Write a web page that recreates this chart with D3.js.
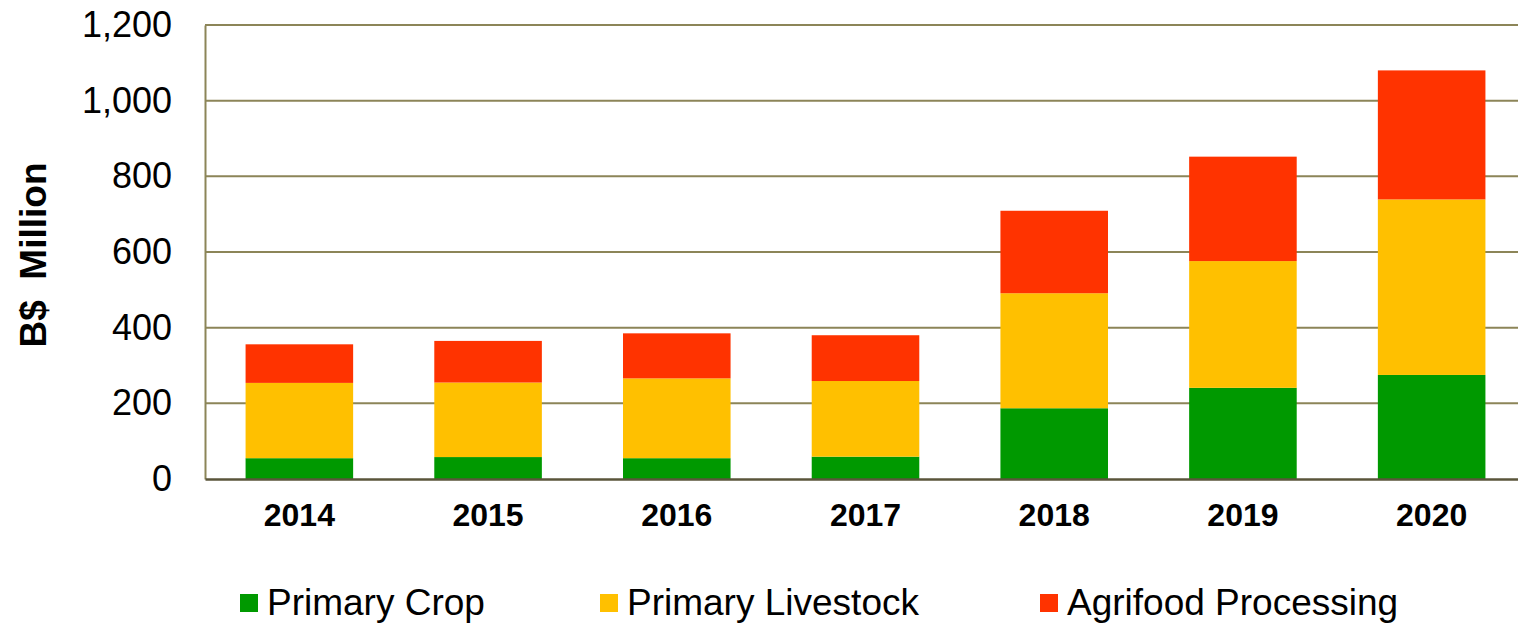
<!DOCTYPE html>
<html>
<head>
<meta charset="utf-8">
<script src="https://cdn.jsdelivr.net/npm/d3@7"></script>
<style>
  body { margin: 0; background: #fff; }
  svg { display: block; font-family: "Liberation Sans", Arial, sans-serif; }
</style>
</head>
<body>
<div id="chart"></div>
<script>
// data (B$ million)
var years = ["2014", "2015", "2016", "2017", "2018", "2019", "2020"];
var primaryCrop = [55, 58, 55, 59, 187, 241, 275];
var primaryLivestock = [199, 197, 211, 200, 304, 335, 464];
var agrifoodProcessing = [102, 110, 119, 121, 218, 276, 341];
var seriesNames = ["Primary Crop", "Primary Livestock", "Agrifood Processing"];
var seriesColors = ["#009900", "#ffc000", "#ff3300"];
var yTicks = [0, 200, 400, 600, 800, 1000, 1200];

var W = 1518, H = 623;
var margin = {top: 25, right: -8, bottom: 144, left: 205},
    width = W - margin.left - margin.right,
    height = H - margin.top - margin.bottom;

var svg = d3.select("#chart")
  .append("svg")
    .attr("width", W)
    .attr("height", H)
  .append("g")
    .attr("transform", "translate(" + margin.left + "," + margin.top + ")");

// build rows for the stack
var rows = years.map(function(y, i) {
  return {year: y, crop: primaryCrop[i], livestock: primaryLivestock[i], agri: agrifoodProcessing[i]};
});
var keys = ["crop", "livestock", "agri"];
var stacked = d3.stack().keys(keys)(rows);

var x = d3.scaleBand()
  .domain(years)
  .range([0, width])
  .paddingInner(0.43)
  .paddingOuter(0.215);

var y = d3.scaleLinear()
  .domain([0, 1200])
  .range([height, 0]);

// gridlines
svg.append("g")
  .selectAll("line")
  .data(yTicks.slice(1))
  .enter()
  .append("line")
    .attr("x1", 0)
    .attr("x2", width)
    .attr("y1", function(d) { return y(d); })
    .attr("y2", function(d) { return y(d); })
    .style("stroke", "#8c8558")
    .style("stroke-width", 2);

// y axis
var yAxis = svg.append("g")
  .call(d3.axisLeft(y).tickValues(yTicks).tickSize(0).tickPadding(33).tickFormat(d3.format(",")));
yAxis.select(".domain").style("stroke", "#8c8558").style("stroke-width", 2);
yAxis.selectAll("text")
  .style("font-size", "36px")
  .style("fill", "#000");

// bars
svg.append("g")
  .selectAll("g")
  .data(stacked)
  .enter()
  .append("g")
    .style("fill", function(d, i) { return seriesColors[i]; })
  .selectAll("rect")
  .data(function(d) { return d; })
  .enter()
  .append("rect")
    .attr("x", function(d) { return x(d.data.year); })
    .attr("y", function(d) { return y(d[1]); })
    .attr("height", function(d) { return y(d[0]) - y(d[1]); })
    .attr("width", x.bandwidth());

// x axis
var xAxis = svg.append("g")
  .attr("transform", "translate(0," + height + ")")
  .call(d3.axisBottom(x).tickSize(0).tickPadding(24));
xAxis.select(".domain").style("stroke", "#5a553a").style("stroke-width", 2.5);
xAxis.selectAll("text")
  .style("font-size", "32px")
  .style("font-weight", "bold")
  .style("fill", "#000");

// y axis title
svg.append("text")
  .attr("transform", "rotate(-90)")
  .attr("x", -(y(0) + y(1200)) / 2 - 3)
  .attr("y", -margin.left + 46)
  .attr("text-anchor", "middle")
  .style("font-size", "37px")
  .style("font-weight", "bold")
  .style("white-space", "pre")
  .text("B$  Million");

// legend
var legendX = [240, 600, 1040];
var legend = svg.append("g")
  .attr("transform", "translate(" + (-margin.left) + "," + (-margin.top) + ")");
legend.selectAll("rect")
  .data(seriesNames)
  .enter()
  .append("rect")
    .attr("x", function(d, i) { return legendX[i]; })
    .attr("y", 594)
    .attr("width", 18)
    .attr("height", 18)
    .style("fill", function(d, i) { return seriesColors[i]; });
legend.selectAll("text")
  .data(seriesNames)
  .enter()
  .append("text")
    .attr("x", function(d, i) { return legendX[i] + 27; })
    .attr("y", 615)
    .style("font-size", "37px")
    .text(function(d) { return d; });
</script>
</body>
</html>
